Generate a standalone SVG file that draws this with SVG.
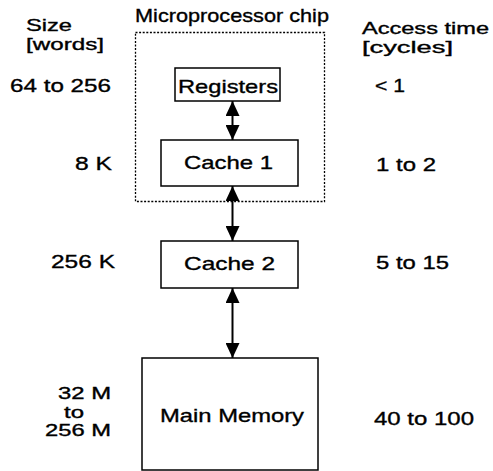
<svg xmlns="http://www.w3.org/2000/svg" width="493" height="471" viewBox="0 0 493 471">
<style>
text{font-family:"Liberation Sans",Arial,sans-serif;font-size:19px;fill:#000;stroke:#000;stroke-width:0.35}
text.st{font-size:16.4px}
.box{fill:#fff;stroke:#000;stroke-width:1.5}
.chip{fill:none;stroke:#000;stroke-width:1.3;stroke-dasharray:2 1.6}
.conn{stroke:#000;stroke-width:2;fill:none}
</style>
<defs>
<marker id="ah" markerUnits="userSpaceOnUse" viewBox="0 0 15 14" refX="15" refY="7" markerWidth="15" markerHeight="14" orient="auto-start-reverse">
<path d="M0,0 L15,7 L0,14 z" fill="#000"/>
</marker>
</defs>
<rect fill="#fff" x="0" y="0" width="493" height="471"/>
<g id="headers">
<text class="st" x="26" y="31" textLength="46" lengthAdjust="spacingAndGlyphs">Size</text>
<text class="st" x="26" y="49.5" textLength="78" lengthAdjust="spacingAndGlyphs">[words]</text>
<text x="135" y="22" textLength="194" lengthAdjust="spacingAndGlyphs">Microprocessor chip</text>
<text class="st" x="362" y="34" textLength="127" lengthAdjust="spacingAndGlyphs">Access time</text>
<text class="st" x="362" y="52.5" textLength="91" lengthAdjust="spacingAndGlyphs">[cycles]</text>
</g>
<g id="chip">
<rect class="chip" x="135.5" y="32.5" width="189" height="169"/>
</g>
<g id="registers">
<rect class="box" x="175" y="68" width="105" height="33"/>
<text x="178" y="92.5" textLength="100" lengthAdjust="spacingAndGlyphs">Registers</text>
<text x="10" y="92" textLength="101" lengthAdjust="spacingAndGlyphs">64 to 256</text>
<text x="375" y="92" textLength="30" lengthAdjust="spacingAndGlyphs">&lt; 1</text>
</g>
<g id="cache1">
<rect class="box" x="161" y="140" width="137" height="46"/>
<text x="184" y="169" textLength="89" lengthAdjust="spacingAndGlyphs">Cache 1</text>
<text x="75" y="170" textLength="37" lengthAdjust="spacingAndGlyphs">8 K</text>
<text x="376" y="171" textLength="60" lengthAdjust="spacingAndGlyphs">1 to 2</text>
</g>
<g id="cache2">
<rect class="box" x="161" y="241" width="137" height="47"/>
<text x="184" y="270" textLength="91" lengthAdjust="spacingAndGlyphs">Cache 2</text>
<text x="51" y="268" textLength="64" lengthAdjust="spacingAndGlyphs">256 K</text>
<text x="376" y="269" textLength="73" lengthAdjust="spacingAndGlyphs">5 to 15</text>
</g>
<g id="mainmemory">
<rect class="box" x="142" y="358" width="176" height="112"/>
<text x="160" y="422" textLength="144" lengthAdjust="spacingAndGlyphs">Main Memory</text>
<text class="st" x="58" y="399" textLength="53" lengthAdjust="spacingAndGlyphs">32 M</text>
<text class="st" x="64" y="417.5" textLength="20" lengthAdjust="spacingAndGlyphs">to</text>
<text class="st" x="45" y="436" textLength="66" lengthAdjust="spacingAndGlyphs">256 M</text>
<text x="374" y="425" textLength="100" lengthAdjust="spacingAndGlyphs">40 to 100</text>
</g>
<g id="connectors">
<line class="conn" x1="232.5" y1="101" x2="232.5" y2="140" marker-start="url(#ah)" marker-end="url(#ah)"/>
<line class="conn" x1="232.5" y1="186" x2="232.5" y2="241" marker-start="url(#ah)" marker-end="url(#ah)"/>
<line class="conn" x1="232.5" y1="288" x2="232.5" y2="358" marker-start="url(#ah)" marker-end="url(#ah)"/>
</g>
</svg>
